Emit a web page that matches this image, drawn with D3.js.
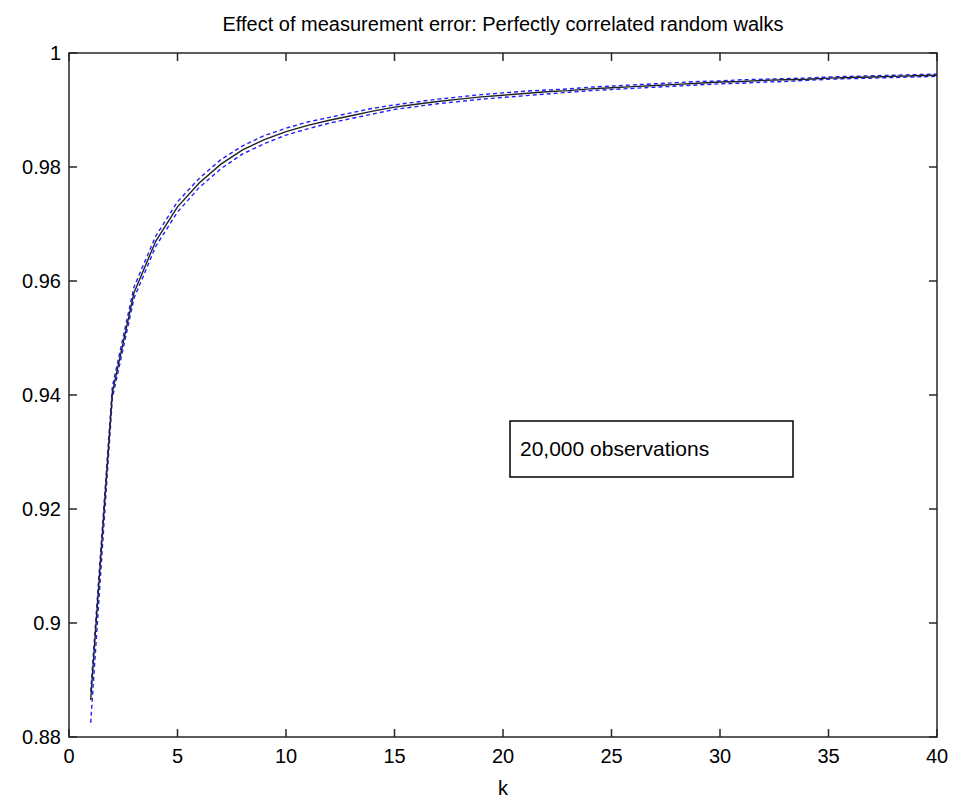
<!DOCTYPE html><html><head><script src="https://d3js.org/d3.v7.min.js"></script>
<style>body{margin:0;background:#fff}text{font-family:"Liberation Sans",Arial,sans-serif}</style></head><body>
<svg id="c" width="954" height="809"></svg>
<script>
const k = d3.range(1,41);
const meanVals = [.8865,.9405,.9580,.9670,.9730,.9772,.9805,.9830,.9848,.9862,.9873,.9882,.9890,.9898,.9905,.9910,.9915,.9919,.9923,.9926,.9929,.9932,.9934,.9937,.9939,.9941,.9943,.9945,.9947,.9949,.9950,.9952,.9953,.9954,.9956,.9957,.9958,.9959,.9960,.9961];
const upperVals = [.8880,.9415,.9590,.9679,.9739,.9780,.9813,.9837,.9855,.9868,.9879,.9887,.9895,.9903,.9909,.9914,.9919,.9923,.9927,.9930,.9933,.9935,.9937,.9940,.9942,.9944,.9946,.9948,.9950,.9951,.9953,.9954,.9955,.9956,.9958,.9959,.9960,.9961,.9962,.9963];
const lowerVals = [.8825,.9395,.9570,.9661,.9721,.9764,.9797,.9823,.9841,.9856,.9867,.9877,.9885,.9893,.9901,.9906,.9911,.9915,.9919,.9922,.9925,.9928,.9931,.9934,.9936,.9938,.9940,.9942,.9944,.9946,.9947,.9949,.9950,.9952,.9954,.9955,.9956,.9957,.9958,.9959];
const xTicks = [0,5,10,15,20,25,30,35,40];
const yTicks = [0.88,0.9,0.92,0.94,0.96,0.98,1];
const svg = d3.select("#c");
const L=69,R=937,T=53,B=737;
const x=d3.scaleLinear([0,40],[L,R]), y=d3.scaleLinear([0.88,1],[B,T]);
const fmt=d=>String(d);
const ax=svg.append("g").attr("fill","none").attr("stroke","#262626").attr("stroke-width",1.5);
xTicks.forEach(t=>{ax.append("line").attr("x1",x(t)).attr("x2",x(t)).attr("y1",B).attr("y2",B-8);ax.append("line").attr("x1",x(t)).attr("x2",x(t)).attr("y1",T).attr("y2",T+8);
 svg.append("text").attr("x",x(t)).attr("y",B+26).attr("text-anchor","middle").attr("font-size",20).text(t);});
yTicks.forEach(t=>{ax.append("line").attr("x1",L).attr("x2",L+8).attr("y1",y(t)).attr("y2",y(t));ax.append("line").attr("x1",R).attr("x2",R-8).attr("y1",y(t)).attr("y2",y(t));
 svg.append("text").attr("x",L-8).attr("y",y(t)+7).attr("text-anchor","end").attr("font-size",20).text(fmt(t));});
const line=d3.line().x((d,i)=>x(k[i])).y(d=>y(d));
[upperVals,lowerVals].forEach(a=>svg.append("path").attr("d",line(a)).attr("fill","none").attr("stroke","#1f1fff").attr("stroke-width",1.4).attr("stroke-dasharray","4,3"));
svg.append("path").attr("d",line(meanVals)).attr("fill","none").attr("stroke","#222").attr("stroke-width",1.4);
svg.append("rect").attr("x",L).attr("y",T).attr("width",R-L).attr("height",B-T).attr("fill","none").attr("stroke","#262626").attr("stroke-width",1.5);
svg.append("text").attr("x",(L+R)/2).attr("y",B+58).attr("text-anchor","middle").attr("font-size",20).text("k");
svg.append("text").attr("x",(L+R)/2).attr("y",31).attr("text-anchor","middle").attr("font-size",20).text("Effect of measurement error: Perfectly correlated random walks");
svg.append("rect").attr("x",510).attr("y",421).attr("width",283).attr("height",56).attr("fill","#fff").attr("stroke","#000").attr("stroke-width",1.5);
svg.append("text").attr("x",520).attr("y",456).attr("font-size",21).text("20,000 observations");
</script></body></html>
